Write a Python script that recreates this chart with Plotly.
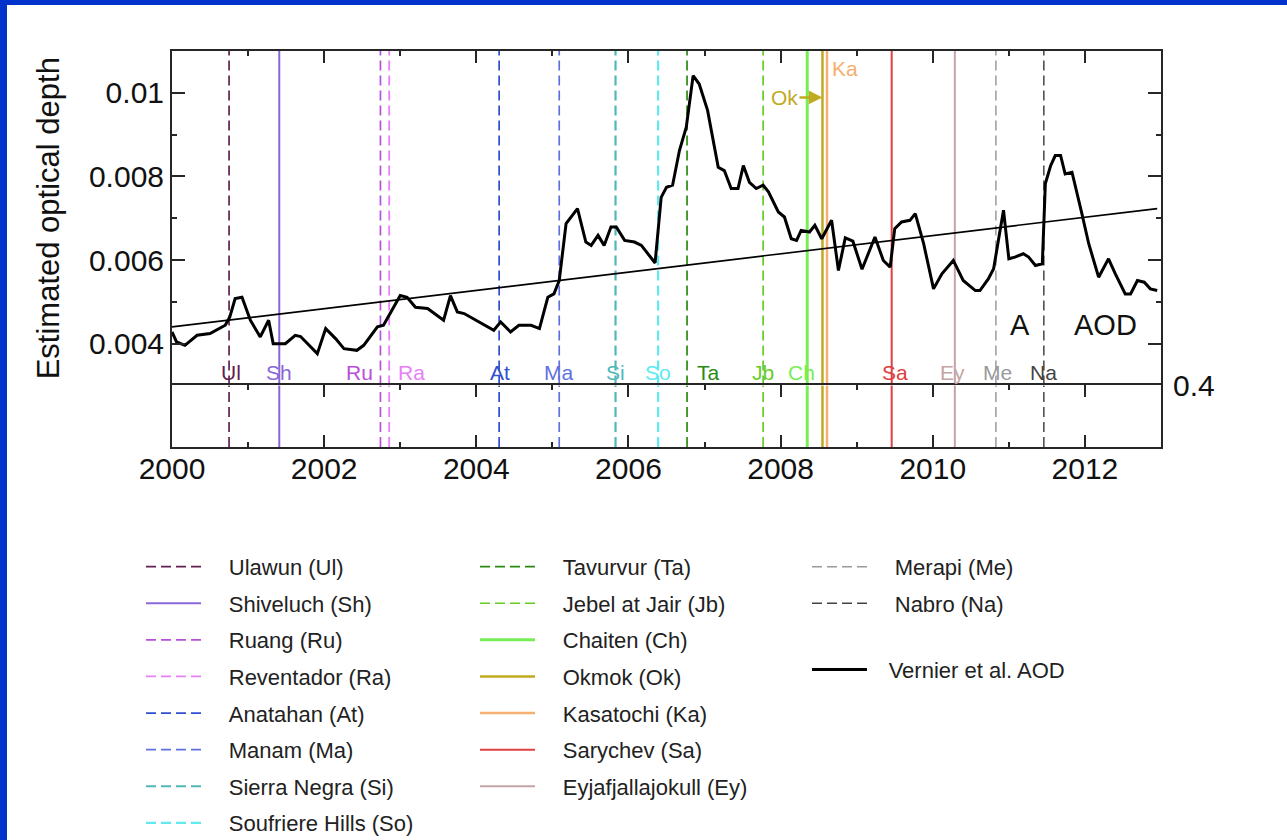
import plotly.graph_objects as go

# ---------------- data ----------------
years = [2000.00, 2000.06, 2000.17, 2000.33, 2000.50, 2000.70, 2000.76, 2000.83, 2000.92,
         2001.03, 2001.16, 2001.27, 2001.33, 2001.49, 2001.62, 2001.69, 2001.91,
         2002.02, 2002.15, 2002.26, 2002.43, 2002.52, 2002.70, 2002.78,
         2003.00, 2003.09, 2003.20, 2003.36, 2003.57, 2003.66, 2003.75, 2003.84,
         2004.23, 2004.32, 2004.45, 2004.56, 2004.61, 2004.72, 2004.83, 2004.94,
         2005.02, 2005.09, 2005.18, 2005.33, 2005.44, 2005.51, 2005.60, 2005.68, 2005.77, 2005.84, 2005.95,
         2006.08, 2006.17, 2006.35, 2006.43, 2006.50, 2006.58, 2006.67, 2006.76, 2006.85, 2006.93,
         2007.04, 2007.18, 2007.26, 2007.35, 2007.44, 2007.51, 2007.59, 2007.68, 2007.77, 2007.84, 2007.97,
         2008.05, 2008.14, 2008.21, 2008.27, 2008.38, 2008.45, 2008.54, 2008.67, 2008.76, 2008.85, 2008.95,
         2009.07, 2009.24, 2009.35, 2009.44, 2009.50, 2009.59, 2009.70, 2009.77, 2009.88,
         2010.01, 2010.12, 2010.27, 2010.40, 2010.56, 2010.62, 2010.73, 2010.80, 2010.87, 2010.93,
         2011.00, 2011.08, 2011.19, 2011.26, 2011.35, 2011.44, 2011.48, 2011.55, 2011.61, 2011.68, 2011.74, 2011.83, 2011.96,
         2012.05, 2012.18, 2012.31, 2012.40, 2012.53, 2012.60, 2012.69, 2012.78, 2012.86, 2012.95]
aod = [0.00428, 0.00404, 0.00396, 0.00420, 0.00424, 0.00444, 0.00464, 0.00508, 0.00511,
       0.00456, 0.00416, 0.00456, 0.00400, 0.00400, 0.00420, 0.00417, 0.00376,
       0.00436, 0.00412, 0.00388, 0.00384, 0.00396, 0.00440, 0.00444,
       0.00515, 0.00511, 0.00487, 0.00484, 0.00456, 0.00515, 0.00476, 0.00472,
       0.00432, 0.00452, 0.00428, 0.00444, 0.00444, 0.00444, 0.00436, 0.00511,
       0.00519, 0.00551, 0.00687, 0.00723, 0.00643, 0.00635, 0.00659, 0.00635, 0.00679, 0.00679, 0.00647,
       0.00643, 0.00635, 0.00593, 0.00750, 0.00774, 0.00779, 0.00862, 0.00918, 0.01041, 0.01021,
       0.00958, 0.00822, 0.00814, 0.00771, 0.00771, 0.00826, 0.00786, 0.00771, 0.00779, 0.00763, 0.00715,
       0.00703, 0.00651, 0.00647, 0.00671, 0.00667, 0.00683, 0.00651, 0.00695, 0.00575, 0.00653, 0.00645,
       0.00578, 0.00655, 0.00599, 0.00583, 0.00675, 0.00691, 0.00695, 0.00711, 0.00639,
       0.00531, 0.00567, 0.00599, 0.00551, 0.00527, 0.00527, 0.00555, 0.00579, 0.00655, 0.00719,
       0.00603, 0.00607, 0.00615, 0.00607, 0.00587, 0.00591, 0.00783, 0.00826, 0.00850, 0.00850, 0.00806, 0.00810, 0.00711,
       0.00639, 0.00559, 0.00603, 0.00567, 0.00519, 0.00519, 0.00551, 0.00547, 0.00531, 0.00527]

trend_years = [2000.0, 2012.95]
trend_vals = [0.00440, 0.00723]

volc_names = ["Ulawun (Ul)", "Shiveluch (Sh)", "Ruang (Ru)", "Reventador (Ra)", "Anatahan (At)",
              "Manam (Ma)", "Sierra Negra (Si)", "Soufriere Hills (So)",
              "Tavurvur (Ta)", "Jebel at Jair (Jb)", "Chaiten (Ch)", "Okmok (Ok)", "Kasatochi (Ka)",
              "Sarychev (Sa)", "Eyjafjallajokull (Ey)",
              "Merapi (Me)", "Nabro (Na)"]
volc_abbr = ["Ul", "Sh", "Ru", "Ra", "At", "Ma", "Si", "So", "Ta", "Jb", "Ch", "Ok", "Ka",
             "Sa", "Ey", "Me", "Na"]
volc_dates = [2000.75, 2001.41, 2002.74, 2002.855, 2004.30, 2005.09, 2005.83, 2006.39,
              2006.77, 2007.77, 2008.35, 2008.55, 2008.61, 2009.46, 2010.29, 2010.83, 2011.46]

series_name = "Vernier et al. AOD"
y_ticks = [0.004, 0.006, 0.008, 0.010]
y_ticktext = ["0.004", "0.006", "0.008", "0.01"]
x_range = [2000, 2013]
y_range = [0.003, 0.011]
lower_range = [0.0, 0.4]

# ---------------- styles ----------------
volc_colors = ["#62204f", "#8868d8", "#b84fd8", "#e880f8", "#3050d0", "#6070e0", "#50b8b8", "#60eaf0",
               "#2a8a10", "#66cc22", "#77ee55", "#c0aa20", "#f5b070", "#e04040", "#c4a4a4",
               "#9a9a9a", "#444444"]
volc_dashed = [True, False, True, True, True, True, True, True,
               True, True, False, False, False, False, False, True, True]
volc_width = [1.7, 2, 1.7, 1.8, 1.7, 1.7, 2.2, 2.2, 1.7, 1.7, 3, 2.5, 2.5, 2, 2, 1.5, 1.5]
volc_legend = ["legend"] * 8 + ["legend2"] * 7 + ["legend3"] * 2
# label anchor and pixel shift
volc_lab = [("center", 2), ("center", 0), ("right", -5), ("left", 7), ("center", 1), ("center", -1),
            ("center", 0), ("center", 0), ("left", 8), ("center", 0), ("center", -6), None, None,
            ("center", 3), ("center", -2), ("center", 2), ("center", 0)]

FONT = "Liberation Sans, Arial, Helvetica, sans-serif"
DASH = "10px,5px"
AX = "#262626"
NB = "\u00a0"
THIN = "\u2009"

fig = go.Figure()

for i, nm in enumerate(volc_names):
    ln = dict(color=volc_colors[i], width=volc_width[i], dash=DASH if volc_dashed[i] else "solid")
    fig.add_trace(go.Scatter(x=[volc_dates[i], volc_dates[i]], y=y_range, mode="lines", line=ln,
                             name=NB * 3 + THIN + nm, legend=volc_legend[i], legendgroup=volc_abbr[i],
                             showlegend=True, hoverinfo="skip", xaxis="x", yaxis="y"))
    fig.add_trace(go.Scatter(x=[volc_dates[i], volc_dates[i]], y=lower_range, mode="lines", line=ln,
                             showlegend=False, hoverinfo="skip", xaxis="x2", yaxis="y2"))

fig.add_trace(go.Scatter(x=trend_years, y=trend_vals, mode="lines", line=dict(color="black", width=1.6),
                         showlegend=False, hoverinfo="skip", xaxis="x", yaxis="y"))
fig.add_trace(go.Scatter(x=years, y=aod, mode="lines", line=dict(color="black", width=3),
                         name=NB * 2 + THIN + series_name, legend="legend4", xaxis="x", yaxis="y"))

# label annotations
LABEL_Y = 0.00331
for i, ab in enumerate(volc_abbr):
    if volc_lab[i] is None:
        continue
    anc, sh = volc_lab[i]
    fig.add_annotation(x=volc_dates[i], y=LABEL_Y, xref="x", yref="y", text=ab, showarrow=False,
                       xanchor=anc, xshift=sh, yanchor="middle",
                       font=dict(size=21, color=volc_colors[i], family=FONT))
ok_i = volc_abbr.index("Ok")
ka_i = volc_abbr.index("Ka")
fig.add_annotation(x=volc_dates[ok_i], y=0.00989, xref="x", yref="y", text="Ok", showarrow=True,
                   ax=-38, ay=0, arrowhead=2, arrowsize=1.1, arrowwidth=2.5, arrowcolor=volc_colors[ok_i],
                   standoff=0, font=dict(size=21, color=volc_colors[ok_i], family=FONT))
fig.add_annotation(x=volc_dates[ka_i], y=0.01058, xref="x", yref="y", text="Ka", showarrow=False,
                   xanchor="left", xshift=3, font=dict(size=21, color=volc_colors[ka_i], family=FONT))
fig.add_annotation(x=2011.15, y=0.00444, xref="x", yref="y", text="A", showarrow=False,
                   font=dict(size=29, color="#111111", family=FONT))
fig.add_annotation(x=2012.27, y=0.00444, xref="x", yref="y", text="AOD", showarrow=False,
                   font=dict(size=29, color="#111111", family=FONT))

# white slide area over blue border
L, R, T, B = 172, 1161, 51, 447.3
W, H = R - L, B - T
def px(xp):
    return (xp - L) / W
def py(yp):
    return (B - yp) / H
fig.add_shape(type="rect", xref="paper", yref="paper", x0=px(7), x1=px(1290), y0=py(845), y1=py(5),
              fillcolor="white", line_width=0, layer="below")

split = py(385.7)
tickfont = dict(size=30, color="#111111", family=FONT)
minor_x = dict(tick0=2000, dtick=1, ticks="inside", ticklen=5, tickwidth=1.5, tickcolor=AX, showgrid=False)
xcommon = dict(range=x_range, tickmode="linear", tick0=2000, dtick=2, ticks="inside", ticklen=12,
               tickwidth=1.5, tickcolor=AX, showline=True, linecolor=AX, linewidth=2,
               showgrid=False, zeroline=False, minor=minor_x)
leg_common = dict(font=dict(size=22, color="#222222", family=FONT), bgcolor="rgba(0,0,0,0)",
                  borderwidth=0, itemwidth=55, tracegroupgap=5, xanchor="left", yanchor="top",
                  orientation="v", traceorder="grouped")
fig.update_layout(
    width=1287, height=840, autosize=False,
    margin=dict(l=L, r=1287 - R, t=T, b=840 - B, pad=0, autoexpand=False),
    paper_bgcolor="#0033cc", plot_bgcolor="white",
    font=dict(family=FONT, color="#111111", size=22),
    xaxis=dict(domain=[0, 1], anchor="y", side="top", showticklabels=False, mirror=False, **xcommon),
    yaxis=dict(domain=[split, 1], anchor="x", range=y_range, tickmode="array", tickvals=y_ticks,
               ticktext=y_ticktext, ticks="inside", ticklen=13, tickwidth=1.5, tickcolor=AX,
               showline=True, linecolor=AX, linewidth=2, mirror="ticks", showgrid=False, zeroline=False,
               tickfont=tickfont, ticklabelstandoff=0,
               minor=dict(tickmode="linear", tick0=0.003, dtick=0.001, ticks="inside", ticklen=5,
                          tickwidth=1.5, tickcolor=AX, showgrid=False),
               title=dict(text="Estimated optical depth", font=dict(size=31, color="#111111", family=FONT),
                          standoff=20)),
    xaxis2=dict(domain=[0, 1], anchor="y2", showticklabels=True, tickfont=tickfont,
                ticklabelstandoff=-6, mirror="ticks", **xcommon),
    yaxis2=dict(domain=[0, split], anchor="x2", range=lower_range, side="right", tickmode="array",
                tickvals=[0.4], ticktext=["0.4"], ticks="", showline=True, linecolor=AX, linewidth=2,
                mirror=True, showgrid=False, zeroline=False, tickfont=tickfont, ticklabelstandoff=4),
    legend=dict(x=px(141), y=py(546.2), **leg_common),
    legend2=dict(x=px(475), y=py(546.2), **leg_common),
    legend3=dict(x=px(807), y=py(546.2), **leg_common),
    legend4=dict(x=px(807), y=py(649.2), **leg_common),
    showlegend=True,
)

fig.write_html("out.html")
